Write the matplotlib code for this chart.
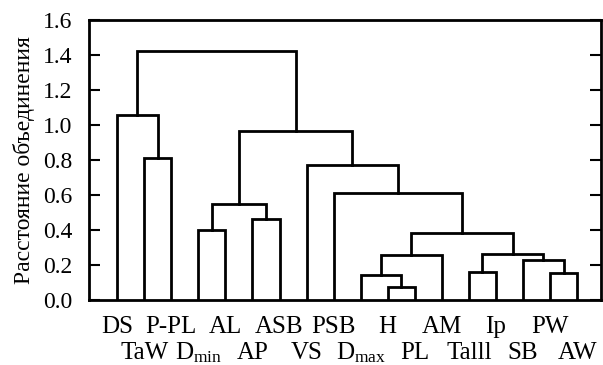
import matplotlib
matplotlib.use("Agg")
import matplotlib.pyplot as plt

plt.rcParams['font.family'] = ['Liberation Serif', 'DejaVu Serif']
plt.rcParams['mathtext.fontset'] = 'custom'
plt.rcParams['mathtext.rm'] = 'Liberation Serif'
plt.rcParams['mathtext.it'] = 'Liberation Serif:italic'

# leaves in dendrogram order
leaves = ['DS', 'TaW', 'P-PL', r'D$_{\mathrm{min}}$', 'AL', 'AP', 'ASB', 'VS', 'PSB',
          r'D$_{\mathrm{max}}$', 'H', 'PL', 'AM', 'Talll', 'Ip', 'SB', 'PW', 'AW']

# merges: (left node, right node, height); nodes >= len(leaves) are earlier merges
merges = [
    (1, 2, 0.81),     # 18 TaW + P-PL
    (0, 18, 1.057),   # 19 DS
    (3, 4, 0.40),     # 20 Dmin + AL
    (5, 6, 0.463),    # 21 AP + ASB
    (20, 21, 0.549),  # 22
    (10, 11, 0.076),  # 23 H + PL
    (9, 23, 0.143),   # 24 Dmax
    (24, 12, 0.257),  # 25 AM
    (13, 14, 0.16),   # 26 Talll + Ip
    (16, 17, 0.154),  # 27 PW + AW
    (15, 27, 0.229),  # 28 SB
    (26, 28, 0.263),  # 29
    (25, 29, 0.383),  # 30
    (8, 30, 0.613),   # 31 PSB
    (7, 31, 0.771),   # 32 VS
    (22, 32, 0.966),  # 33
    (19, 33, 1.423),  # 34
]

n = len(leaves)
xpos = {i: float(i) for i in range(n)}
ypos = {i: 0.0 for i in range(n)}

fig = plt.figure(figsize=(6.03, 3.65), dpi=100)
ax = fig.add_axes([0.1476, 0.178, 0.8491, 0.767])

for k, (a, b, h) in enumerate(merges):
    node = n + k
    ax.plot([xpos[a], xpos[a], xpos[b], xpos[b]], [ypos[a], h, h, ypos[b]],
            color='black', lw=2.0, solid_joinstyle='miter')
    xpos[node] = (xpos[a] + xpos[b]) / 2
    ypos[node] = h

ax.set_xlim(-1.04, 17.88)
ax.set_ylim(0, 1.6)
ax.set_yticks([0.0, 0.2, 0.4, 0.6, 0.8, 1.0, 1.2, 1.4, 1.6])
ax.set_yticklabels([f'{v:.1f}' for v in ax.get_yticks()], fontsize=17)
ax.set_xticks([])
ax.tick_params(axis='y', direction='in', length=8, width=1.5, pad=12, right=True)
for s in ax.spines.values():
    s.set_linewidth(2.0)
ax.set_ylabel('Расстояние объединения', fontsize=17, labelpad=6)

for i, lab in enumerate(leaves):
    y = -0.155 if i % 2 == 0 else -0.30
    ax.text(i, y, lab, ha='center', va='center', fontsize=18, clip_on=False)

fig.savefig('out.png', dpi=100)
